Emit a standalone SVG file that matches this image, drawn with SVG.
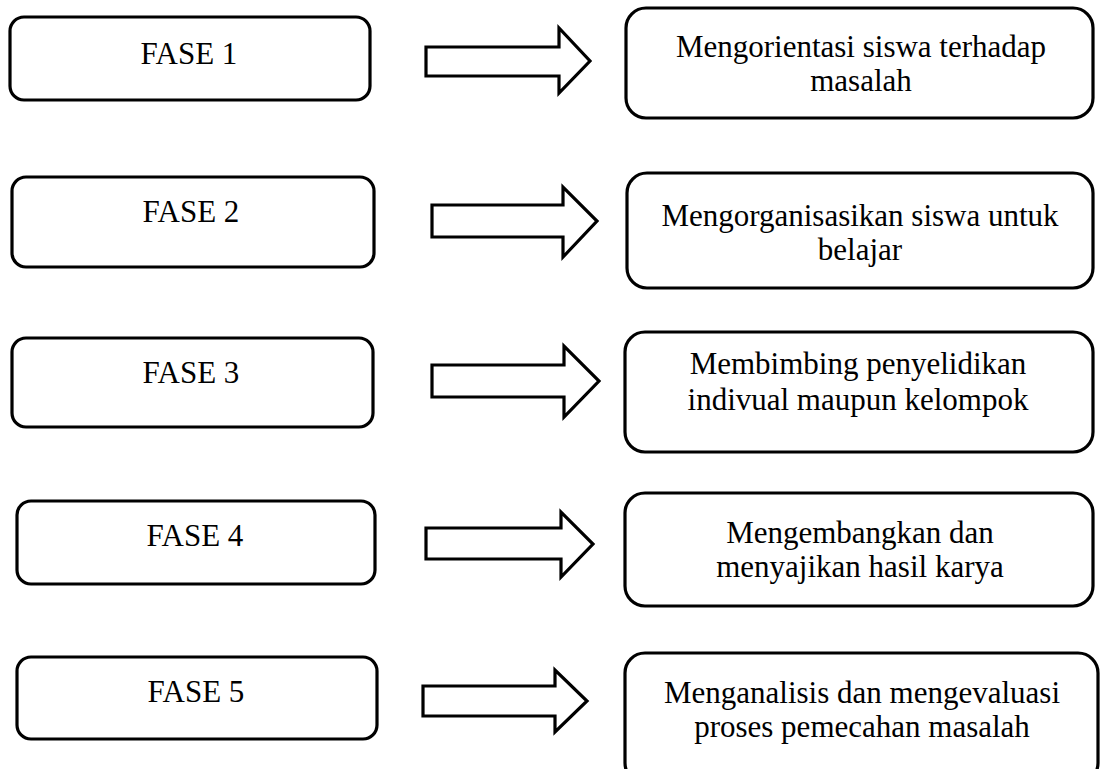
<svg xmlns="http://www.w3.org/2000/svg" width="1101" height="769" viewBox="0 0 1101 769">
  <style>
    .box { fill: #ffffff; stroke: #000000; stroke-width: 3.2; }
    .arrow { fill: #ffffff; stroke: #000000; stroke-width: 3.2; stroke-linejoin: miter; }
    .label { font-family: "Liberation Serif", "Times New Roman", serif; font-size: 31px; fill: #000000; text-anchor: middle; }
  </style>
  <rect width="1101" height="769" fill="#ffffff"/>

  <!-- phase boxes (left column) -->
  <g id="fase1">
    <rect class="box" x="10" y="17" width="360" height="83" rx="14"/>
    <text class="label" x="189" y="64">FASE 1</text>
  </g>
  <g id="fase2">
    <rect class="box" x="12" y="177" width="362" height="90" rx="14"/>
    <text class="label" x="191" y="222">FASE 2</text>
  </g>
  <g id="fase3">
    <rect class="box" x="12" y="338" width="361" height="89" rx="14"/>
    <text class="label" x="191" y="383">FASE 3</text>
  </g>
  <g id="fase4">
    <rect class="box" x="17" y="501" width="358" height="83" rx="14"/>
    <text class="label" x="195" y="546">FASE 4</text>
  </g>
  <g id="fase5">
    <rect class="box" x="17" y="657" width="360" height="82" rx="14"/>
    <text class="label" x="196" y="702">FASE 5</text>
  </g>

  <!-- block arrows between columns -->
  <g id="connectors">
    <path class="arrow" d="M426,47 H559 V28 L590,61 L559,93 V76 H426 Z"/>
    <path class="arrow" d="M432,205 H563 V187 L597,221 L563,257 V237 H432 Z"/>
    <path class="arrow" d="M432,365 H564 V346 L599,381 L564,417 V397 H432 Z"/>
    <path class="arrow" d="M426,528 H561 V512 L593,544 L561,577 V559 H426 Z"/>
    <path class="arrow" d="M423,686 H555 V670 L587,701 L555,732 V716 H423 Z"/>
  </g>

  <!-- activity boxes (right column) -->
  <g id="step1">
    <rect class="box" x="626" y="8" width="467" height="110" rx="20"/>
    <text class="label" x="861" y="57">Mengorientasi siswa terhadap</text>
    <text class="label" x="861" y="91">masalah</text>
  </g>
  <g id="step2">
    <rect class="box" x="627" y="173" width="466" height="115" rx="20"/>
    <text class="label" x="860" y="226">Mengorganisasikan siswa untuk</text>
    <text class="label" x="860" y="260">belajar</text>
  </g>
  <g id="step3">
    <rect class="box" x="625" y="332" width="468" height="120" rx="20"/>
    <text class="label" x="858" y="374">Membimbing penyelidikan</text>
    <text class="label" x="858" y="410">indivual maupun kelompok</text>
  </g>
  <g id="step4">
    <rect class="box" x="625" y="493" width="468" height="113" rx="20"/>
    <text class="label" x="860" y="543">Mengembangkan dan</text>
    <text class="label" x="860" y="577">menyajikan hasil karya</text>
  </g>
  <g id="step5">
    <rect class="box" x="625" y="653" width="473" height="130" rx="20"/>
    <text class="label" x="862" y="703">Menganalisis dan mengevaluasi</text>
    <text class="label" x="862" y="737">proses pemecahan masalah</text>
  </g>
</svg>
